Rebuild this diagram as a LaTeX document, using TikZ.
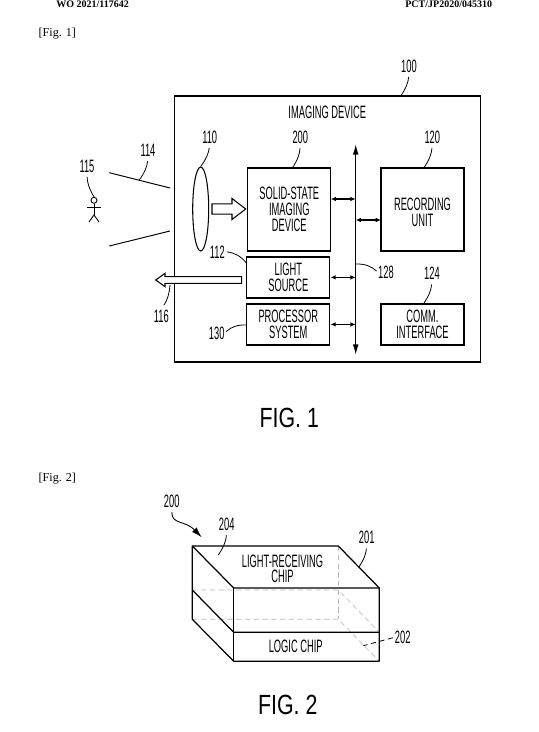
\documentclass[tikz,border=0pt]{standalone}
\usepackage{fontspec}
\setmainfont{Liberation Serif}
\setsansfont[FakeStretch=0.52]{Liberation Sans}
\newfontfamily\figfont[FakeStretch=0.77]{Liberation Sans}
\usetikzlibrary{
  arrows.meta,
  calc,
  shapes.geometric
}

\begin{document}
\begin{tikzpicture}[
  x=0.02cm, y=-0.02cm,
  font=\fontsize{10.2}{9}\selectfont\sffamily,
  >=Latex,
  block/.style={draw, line width=0.7pt, align=center, inner sep=0pt,
                minimum width=#1},
  block/.default=1.66cm,
  tall/.style={minimum height=1.66cm},
  flat/.style={minimum height=0.82cm, execute at begin node=\rule{0pt}{9pt}},
  tag/.style={inner sep=0pt, text height=7.4pt, text depth=0pt},
  leader/.style={line width=0.45pt, bend left=15, shorten <=2.5pt},
  sideleader/.style={line width=0.45pt, bend left=22, shorten <=1pt},
  twoway/.style={{Latex[length=3pt,width=2.6pt]}-{Latex[length=3pt,width=2.6pt]}, line width=0.6pt},
  ray/.style={line width=0.55pt},
  hollow/.style={draw, fill=white, line width=0.6pt},
  hidden/.style={densely dashed, gray!55, line width=0.35pt},
  edge3d/.style={line width=0.7pt, line join=round},
  caption/.style={inner sep=0pt, font=\fontsize{15.8}{16}\selectfont\figfont},
  pagetext/.style={inner sep=0pt, anchor=base west, font=\rmfamily\fontsize{6.9}{8}\selectfont},
  headtext/.style={inner sep=0pt, anchor=base west, font=\rmfamily\bfseries\fontsize{5.7}{7}\selectfont},
]
  \useasboundingbox (0,0) rectangle (538,732);

  % page furniture
  \node[headtext] (wonum) at (56,7.5) {WO 2021/117642};
  \node[headtext] (pctnum) at (405,7.5) {PCT/JP2020/045310};
  \node[pagetext] (figa) at (38.3,37) {[Fig. 1]};
  \node[pagetext] (figb) at (38.3,481) {[Fig. 2]};

  % fig 1 blocks
  \node[block=6.12cm, minimum height=5.32cm] (device) at (327.2,229) {};
  \node[inner sep=0pt] (devtitle) at (327.3,112.7) {IMAGING DEVICE};
  \node[block, tall] (sensor) at (289.3,209.5) {SOLID-STATE\\IMAGING\\DEVICE};
  \node[block, tall] (record) at (422.5,209.5) {\rule{0pt}{10pt}RECORDING\\UNIT};
  \node[block, flat] (light) at (288.3,277.4) {LIGHT\\SOURCE};
  \node[block, flat] (proc) at (288.3,324.4) {PROCESSOR\\SYSTEM};
  \node[block, flat] (comm) at (422.5,324.5) {COMM.\\INTERFACE};
  \node[draw, ellipse, line width=0.6pt, inner sep=0pt, minimum width=0.32cm, minimum height=1.68cm] (lens) at (200.7,209) {};

  % bus
  \coordinate (bustop) at (355.7,144);
  \coordinate (busbot) at (355.7,355);
  \draw[{Latex[length=6pt,width=3.2pt]}-{Latex[length=6pt,width=3.2pt]}, line width=0.7pt] (bustop) -- (busbot);
  \coordinate (sensorport) at (330.7,199);
  \coordinate (recordport) at (381,220);
  \draw[twoway] (sensorport) -- (sensorport -| bustop);
  \draw[twoway] (recordport) -- (recordport -| bustop);
  \draw[twoway] (light.east) -- (light.east -| bustop);
  \draw[twoway] (proc.east) -- (proc.east -| bustop);

  % hollow arrows
  \draw[hollow] (212,203.8) -- (232,203.8) -- (232,198.5) -- (245.7,209) -- (232,219.5) -- (232,214.2) -- (212,214.2) -- cycle;
  \draw[hollow] (241.7,276.7) -- (165,276.7) -- (165,273.3) -- (155.7,280) -- (165,286.7) -- (165,283.3) -- (241.7,283.3) -- cycle;

  % field of view
  \coordinate (rayaa) at (109.3,172.7);
  \coordinate (rayab) at (170,188);
  \coordinate (rayba) at (109.3,246);
  \coordinate (raybb) at (170,231);
  \draw[ray] (rayaa) -- (rayab);
  \draw[ray] (rayba) -- (raybb);

  % person
  \node[draw, circle, line width=0.5pt, inner sep=0pt, minimum size=0.12cm] (head) at (94,200.3) {};
  \coordinate (hip) at (94,215);
  \draw[line width=0.5pt] (head.south) -- (hip);
  \draw[line width=0.5pt] (87.3,207.5) -- (100.7,207.5);
  \draw[line width=0.5pt] (89,222) -- (hip) -- (99,222);

  % reference numerals
  \node[tag] (n100) at (409,65.7) {100};
  \node[tag] (n110) at (209.7,136.7) {110};
  \node[tag] (n200) at (300.3,137) {200};
  \node[tag] (n120) at (432.3,137) {120};
  \node[tag] (n114) at (148,150) {114};
  \node[tag] (n115) at (87,165.7) {115};
  \node[tag] (n112) at (217.3,251.7) {112};
  \node[tag] (n128) at (386,272.3) {128};
  \node[tag] (n124) at (432,273.3) {124};
  \node[tag] (n116) at (161.3,315.7) {116};
  \node[tag] (n130) at (216.7,332.7) {130};

  \coordinate (hit100) at (400.7,96);
  \coordinate (hit200) at (292.3,168);
  \coordinate (hit120) at (423.7,168);
  \coordinate (hit114) at (139.3,180);
  \coordinate (hit115) at (94.3,197.3);
  \coordinate (hit112) at (246.7,263.3);
  \coordinate (hit128) at (355.7,264);
  \coordinate (hit124) at (423.3,304);
  \coordinate (hit116) at (170,285);
  \coordinate (hit130) at (246.7,325);

  \draw[leader] (n100.south) to (hit100);
  \draw[leader] (n110.south) to (lens.north);
  \draw[leader] (n200.south) to (hit200);
  \draw[leader] (n120.south) to (hit120);
  \draw[leader] (n114.south) to (hit114);
  \draw[leader, bend left=-15] (n115.south) to (hit115);
  \draw[sideleader] (n112.east) to (hit112);
  \draw[sideleader, shorten <=0pt, shorten >=1pt] (hit128) to (n128.west);
  \draw[leader] (n124.south) to (hit124);
  \draw[leader, bend left=-15] (n116.north) to (hit116);
  \draw[sideleader] (n130.east) to (hit130);

  \node[caption] (capa) at (289.3,418) {FIG. 1};

  % fig 2 chip stack
  \coordinate (backtl) at (192.3,546);
  \coordinate (backtr) at (338.3,546);
  \coordinate (fronttl) at (233.7,588);
  \coordinate (fronttr) at (379.3,588);
  \coordinate (frontml) at (233.7,632.3);
  \coordinate (frontmr) at (379.3,632.3);
  \coordinate (frontbl) at (233.7,661.3);
  \coordinate (frontbr) at (379.3,661.3);
  \coordinate (backml) at (192.3,590);
  \coordinate (backmr) at (338.3,590);
  \coordinate (backbl) at (192.3,619.3);
  \coordinate (backbr) at (338.3,619.3);

  \draw[hidden] (backml) -- (backmr) -- (frontmr);
  \draw[hidden] (backbl) -- (backbr) -- (frontbr);
  \draw[hidden] (backtr) -- (backbr);

  \draw[edge3d] (backtl) -- (backtr) -- (fronttr) -- (frontbr) -- (frontbl) -- (backbl) -- cycle;
  \draw[edge3d] (backtl) -- (fronttl) -- (fronttr);
  \draw[edge3d] (fronttl) -- (frontbl);
  \draw[edge3d] (backml) -- (frontml) -- (frontmr);

  \node[inner sep=0pt, align=center] (topchip) at (282.5,568.8) {LIGHT-RECEIVING\\CHIP};
  \node[inner sep=0pt] (botchip) at (295.7,646.7) {LOGIC CHIP};

  \node[tag] (m200) at (171.7,501) {200};
  \node[tag] (m204) at (226.7,524) {204};
  \node[tag] (m201) at (366.7,537.3) {201};
  \node[tag] (m202) at (402.7,637.3) {202};

  \coordinate (hit204) at (218.3,555);
  \coordinate (hit201) at (358.7,567.3);
  \coordinate (hit202) at (363.3,645.7);
  \coordinate (tip200) at (201.7,537.3);

  \draw[line width=0.5pt, shorten <=2.5pt, -{Latex[length=6pt,width=3.6pt]}] (m200.south) .. controls (172,525) and (185,520) .. (tip200);
  \draw[leader] (m204.south) to (hit204);
  \draw[leader] (m201.south) to (hit201);
  \draw[line width=0.45pt, densely dashed, shorten <=1pt] (m202.west) -- (hit202);

  \node[caption] (capb) at (287.7,705) {FIG. 2};
\end{tikzpicture}
\end{document}
